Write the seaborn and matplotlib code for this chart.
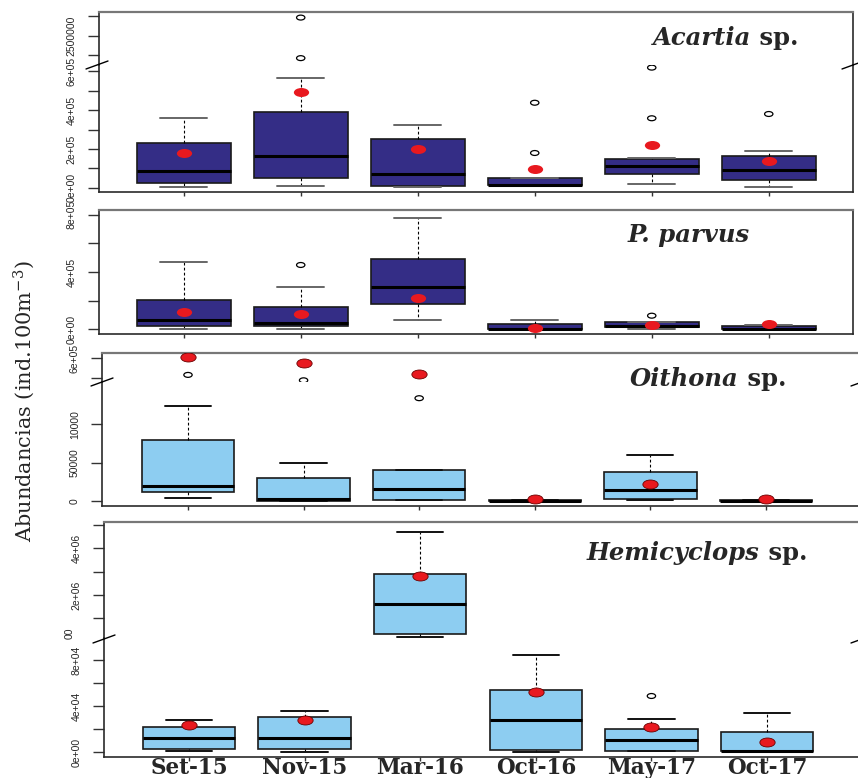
import numpy as np
import pandas as pd
import seaborn as sns
from matplotlib import pyplot as plt
from matplotlib import font_manager
from matplotlib.path import Path
from matplotlib.lines import Line2D
from matplotlib.transforms import Bbox, TransformedBbox

sns.set_style('white')
names = {f.name for f in font_manager.fontManager.ttflist}
tick_font = 'Liberation Sans Narrow' if 'Liberation Sans Narrow' in names else 'Liberation Sans'
tick_size = 9 if tick_font == 'Liberation Sans Narrow' else 7.5
plt.rcParams['font.family'] = ['DejaVu Serif']
plt.rcParams['mathtext.fontset'] = 'dejavuserif'

#------------------------------------------------------------------------------
# Data: box summaries, means and outliers per month
#------------------------------------------------------------------------------
months = ['Set-15', 'Nov-15', 'Mar-16', 'Oct-16', 'May-17', 'Oct-17']

acartia_lo = [2e3, 1e4, 2e3, 1e4, 2e4, 4e3]
acartia_q1 = [2.4e4, 4.8e4, 9e3, 1.4e4, 6.9e4, 4.1e4]
acartia_med = [8.6e4, 1.63e5, 6.9e4, 1.6e4, 1.1e5, 9.0e4]
acartia_q3 = [2.3e5, 3.9e5, 2.53e5, 5.0e4, 1.48e5, 1.62e5]
acartia_hi = [3.6e5, 5.67e5, 3.25e5, 5.0e4, 1.55e5, 1.91e5]
acartia_mean = [1.79e5, 4.93e5, 2.0e5, 9.5e4, 2.2e5, 1.38e5]
acartia_out_m = ['Nov-15', 'Nov-15', 'Oct-16', 'Oct-16', 'May-17', 'May-17', 'Oct-17']
acartia_out_v = [2.96e6, 1.92e6, 1.79e5, 4.38e5, 3.58e5, 6.19e5, 3.8e5]

parvus_lo = [0, 0, 6.5e4, 0, 0, 0]
parvus_q1 = [2.5e4, 2.1e4, 1.77e5, 1e3, 1.4e4, 1e3]
parvus_med = [6.7e4, 4.4e4, 2.95e5, 3e3, 2.5e4, 3e3]
parvus_q3 = [2.07e5, 1.56e5, 4.93e5, 3.7e4, 5.3e4, 2.1e4]
parvus_hi = [4.68e5, 2.95e5, 7.79e5, 6.7e4, 5.3e4, 3.2e4]
parvus_mean = [1.23e5, 1.09e5, 2.19e5, 1.1e4, 3.0e4, 3.5e4]
parvus_out_m = ['Nov-15', 'May-17']
parvus_out_v = [4.49e5, 9.5e4]

oithona_lo = [3.5e3, 0, 1e3, 0, 1.3e3, 0]
oithona_q1 = [1.21e4, 200, 1.7e3, 300, 3.0e3, 300]
oithona_med = [1.92e4, 3.0e3, 1.57e4, 600, 1.4e4, 600]
oithona_q3 = [8.0e4, 3.04e4, 4.0e4, 1200, 3.75e4, 1200]
oithona_hi = [1.236e5, 5.0e4, 4.0e4, 1500, 5.96e4, 1500]
oithona_mean = [6.05e5, 5.78e5, 5.21e5, 3e3, 2.18e4, 3e3]
oithona_out_m = ['Set-15', 'Nov-15', 'Mar-16']
oithona_out_v = [5.17e5, 4.9e5, 1.34e5]

hemi_lo = [1.1e3, 0, 1.9e5, 0, 800, 900]
hemi_q1 = [2.3e3, 2.3e3, 3.4e5, 1.5e3, 1.1e3, 1.1e3]
hemi_med = [1.22e4, 1.22e4, 1.63e6, 2.81e4, 1.0e4, 1.3e3]
hemi_q3 = [2.2e4, 3.0e4, 2.89e6, 5.36e4, 1.97e4, 1.74e4]
hemi_hi = [2.81e4, 3.57e4, 4.70e6, 8.46e4, 2.87e4, 3.42e4]
hemi_mean = [2.35e4, 2.81e4, 2.82e6, 5.22e4, 2.15e4, 8.4e3]
hemi_out_m = ['May-17']
hemi_out_v = [4.87e4]

dark_blue = '#342D86'
light_blue = '#8DCDF1'
red = '#E8191F'

#------------------------------------------------------------------------------
# Figure helpers
#------------------------------------------------------------------------------
W, H = 858, 778
fig = plt.figure(figsize=(W / 100, H / 100), dpi=100)

def add_ax(left, top, right, bottom):
    ax = fig.add_axes([left / W, 1 - bottom / H, (right - left) / W, (bottom - top) / H])
    ax.set_facecolor('none')
    return ax

circ = Path.unit_circle()
ellipse = Path(circ.vertices * [1.7, 1.0], circ.codes)

def in_range(cats, vals, ylim):
    pts = pd.DataFrame({'month': cats, 'value': vals})
    return pts[(pts['value'] >= ylim[0]) & (pts['value'] <= ylim[1])]

def loosen_clip(ax):
    # let markers sitting on the break/frame show whole
    coll = ax.collections[-1]
    coll.set_clip_path(None)
    coll.set_clip_box(TransformedBbox(Bbox([[-0.02, -0.3], [1.02, 1.3]]), ax.transAxes))

def draw(ax, ylim, lo, q1, med, q3, hi, mean, out_m, out_v, face, capcol, mean_lw):
    df = pd.DataFrame({'month': np.repeat(months, 5),
                       'value': np.column_stack([lo, q1, med, q3, hi]).ravel()})
    sns.boxplot(data=df, x='month', y='value', order=months, ax=ax, whis=(0, 100),
                width=0.8, color=face, saturation=1, linecolor='#1a1a1a', linewidth=1.2,
                medianprops=dict(color='black', linewidth=2.2),
                whiskerprops=dict(color='black', linestyle=(0, (2.5, 2)), linewidth=0.8),
                capprops=dict(color=capcol, linewidth=1.4))
    outs = in_range(out_m, out_v, ylim)
    if len(outs):
        sns.stripplot(data=outs, x='month', y='value', order=months, ax=ax, jitter=False,
                      marker=ellipse, size=6, facecolor='none', edgecolor='black',
                      linewidth=0.9)
        loosen_clip(ax)
    means = in_range(months, mean, ylim)
    if len(means):
        sns.stripplot(data=means, x='month', y='value', order=months, ax=ax, jitter=False,
                      marker=ellipse, size=11, color=red, edgecolor='#6a0000',
                      linewidth=mean_lw)
        loosen_clip(ax)
    ax.set(xlabel='', ylabel='')

def style(ax, xlim, ylim, yticks, ylabels, part='full', xlabels=False):
    ax.set_xlim(xlim)
    ax.set_ylim(ylim)
    ax.set_yticks(yticks, ylabels, fontfamily=tick_font, fontsize=tick_size)
    ax.tick_params(axis='y', left=True, direction='out', length=8, width=1,
                   color='#333333', pad=8, labelrotation=90)
    for lbl in ax.get_yticklabels():
        lbl.set_va('center')
    for s in ax.spines.values():
        s.set_color('#2a2a2a')
        s.set_linewidth(1.2)
    ax.spines['top'].set_color('#777777')
    ax.spines['top'].set_linewidth(1.6)
    if part == 'upper':
        ax.spines['bottom'].set_visible(False)
        ax.tick_params(axis='x', bottom=False, labelbottom=False)
    else:
        if part == 'lower':
            ax.spines['top'].set_visible(False)
        ax.tick_params(axis='x', bottom=True, direction='out', length=3, width=1,
                       color='#333333', labelbottom=xlabels, labelsize=15.5, pad=-3)
        for lbl in ax.get_xticklabels():
            lbl.set_fontweight('bold')

def brk(x, y):
    fig.add_artist(Line2D([(x - 11) / W, (x + 11) / W], [1 - (y + 4) / H, 1 - (y - 4) / H],
                          color='black', lw=1))

def title(ax, x, y, italic, rest):
    t = ax.text(x / W, 1 - y / H, italic, transform=fig.transFigure, fontsize=17.5,
                fontweight='bold', fontstyle='italic', va='bottom', ha='left', zorder=10)
    if rest:
        ax.annotate(rest, xy=(1, 0), xycoords=t, fontsize=17.5, fontweight='bold',
                    va='bottom', ha='left', annotation_clip=False, zorder=10)

#------------------------------------------------------------------------------
# Acartia sp. (broken axis)
#------------------------------------------------------------------------------
xl12 = (-0.724, 5.72)
yl1u, yl1l = (1.744e6, 3.103e6), (-2.2e4, 6.325e5)
a1u = add_ax(99, 12, 853, 65)
a1l = add_ax(99, 65, 853, 192)
for ax, yl in ((a1u, yl1u), (a1l, yl1l)):
    draw(ax, yl, acartia_lo, acartia_q1, acartia_med, acartia_q3, acartia_hi, acartia_mean,
         acartia_out_m, acartia_out_v, dark_blue, '#666666', 0)
style(a1u, xl12, yl1u, [2e6, 2.5e6, 3e6], ['', '2500000', ''], 'upper')
style(a1l, xl12, yl1l, np.arange(0, 7e5, 1e5),
      ['0e+00', '', '2e+05', '', '4e+05', '', '6e+05'], 'lower')
brk(97, 65)
brk(853, 65)
title(a1u, 653, 50, 'Acartia', ' sp.')

#------------------------------------------------------------------------------
# P. parvus
#------------------------------------------------------------------------------
yl2 = (-3.28e4, 8.328e5)
a2 = add_ax(99, 210, 853, 334)
draw(a2, yl2, parvus_lo, parvus_q1, parvus_med, parvus_q3, parvus_hi, parvus_mean,
     parvus_out_m, parvus_out_v, dark_blue, '#666666', 0)
style(a2, xl12, yl2, np.arange(0, 9e5, 2e5), ['0e+00', '', '4e+05', '', '8e+05'], 'full')
title(a2, 628, 247, 'P. parvus', '')

#------------------------------------------------------------------------------
# Oithona sp. (broken axis)
#------------------------------------------------------------------------------
xl3 = (-0.744, 5.84)
yl3u, yl3l = (4.83e5, 6.265e5), (-6.5e3, 1.555e5)
a3u = add_ax(102, 353, 863, 381.7)
a3l = add_ax(102, 381.7, 863, 506)
for ax, yl in ((a3u, yl3u), (a3l, yl3l)):
    draw(ax, yl, oithona_lo, oithona_q1, oithona_med, oithona_q3, oithona_hi, oithona_mean,
         oithona_out_m, oithona_out_v, light_blue, '#111111', 0.6)
style(a3u, xl3, yl3u, [5e5, 6e5], ['', '6e+05'], 'upper')
style(a3l, xl3, yl3l, [0, 5e4, 1e5], ['0', '50000', '10000'], 'lower')
brk(102, 382)
brk(862, 382)
title(a3u, 630, 391, 'Oithona', ' sp.')

#------------------------------------------------------------------------------
# Hemicyclops sp. (broken axis)
#------------------------------------------------------------------------------
xl4 = (-0.735, 5.83)
yl4u, yl4l = (1.59e5, 5.131e6), (-4.35e3, 9.913e4)
a4u = add_ax(104, 522, 863, 638)
a4l = add_ax(104, 638, 863, 757)
for ax, yl in ((a4u, yl4u), (a4l, yl4l)):
    draw(ax, yl, hemi_lo, hemi_q1, hemi_med, hemi_q3, hemi_hi, hemi_mean,
         hemi_out_m, hemi_out_v, light_blue, '#111111', 0.6)
style(a4u, xl4, yl4u, np.arange(1e6, 6e6, 1e6), ['', '2e+06', '', '4e+06', ''], 'upper')
style(a4l, xl4, yl4l, np.arange(0, 1e5, 2e4),
      ['0e+00', '', '4e+04', '', '8e+04'], 'lower', xlabels=True)
a4u.text(-0.045, 3.7e5, '00', transform=a4u.get_yaxis_transform(), rotation=90,
         ha='center', va='center', fontfamily=tick_font, fontsize=tick_size, clip_on=False)
brk(104, 639)
brk(862, 639)
title(a4u, 587, 565, 'Hemicyclops', ' sp.')

fig.text(24 / W, 1 - 401 / H, 'Abundancias (ind.100m$^{-3}$)', rotation=90,
         ha='center', va='center', fontsize=15)

plt.savefig('out.png', dpi=100)
